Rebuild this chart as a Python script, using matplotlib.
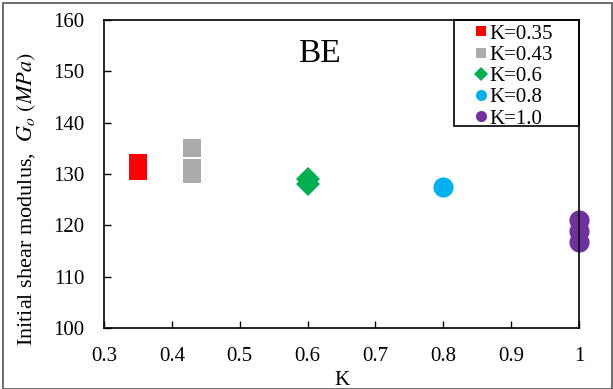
import matplotlib
matplotlib.use("Agg")
import matplotlib.pyplot as plt
from matplotlib.patches import Rectangle

plt.rcParams['font.family'] = ['Liberation Serif', 'DejaVu Serif']
plt.rcParams['mathtext.fontset'] = 'stix'

# Data
k_035 = [0.35, 0.35]
g_035 = [132.2, 130.5]
k_043 = [0.43, 0.43, 0.43]
g_043 = [135.1, 131.2, 130.0]
k_06 = [0.6, 0.6]
g_06 = [129.1, 128.0]
k_08 = [0.8]
g_08 = [127.5]
k_10 = [1.0, 1.0, 1.0]
g_10 = [121.0, 118.9, 116.8]

xticks = [0.3, 0.4, 0.5, 0.6, 0.7, 0.8, 0.9, 1.0]
xticklabels = ['0.3', '0.4', '0.5', '0.6', '0.7', '0.8', '0.9', '1']
yticks = [100, 110, 120, 130, 140, 150, 160]

fig = plt.figure(figsize=(6.13, 3.89), dpi=100)
ax = fig.add_axes([104/613, 1-328/389, 475/613, 308/389])

ax.plot(k_035, g_035, 's', color='#ff0000', ms=13.5, mew=0, label='K=0.35', clip_on=False)
ax.plot(k_043, g_043, 's', color='#aeaaaa', ms=13.0, mew=0, label='K=0.43', clip_on=False)
ax.plot(k_06, g_06, 'D', color='#00b050', ms=12.5, mew=0, label='K=0.6', clip_on=False)
ax.plot(k_08, g_08, 'o', color='#00b0f0', ms=14.5, mew=0, label='K=0.8', clip_on=False)
ax.plot(k_10, g_10, 'o', color='#7030a0', ms=14.5, mew=0, label='K=1.0', clip_on=False)

ax.set_xlim(0.3, 1.0)
ax.set_ylim(100, 160)
ax.set_xticks(xticks)
ax.set_xticklabels(xticklabels)
ax.set_yticks(yticks)
ax.tick_params(direction='in', length=5, width=1, labelsize=15, pad=14, colors='black')
for s in ax.spines.values():
    s.set_linewidth(1.2)
    s.set_color('black')

ax.set_xlabel('K', fontsize=15, labelpad=3)
ax.set_ylabel('Initial shear modulus,  $\\mathit{G_o}$ $\\mathit{(MPa)}$', fontsize=16)
ax.yaxis.set_label_coords(-0.14, 0.42)

ax.text(0.408, 0.89, 'BE', transform=ax.transAxes, fontsize=24, ha='left', va='center')

leg = ax.legend(loc='upper left', bbox_to_anchor=(0.78, 0.987), fontsize=15, frameon=False,
                borderaxespad=0, handlelength=0.6, handletextpad=0.12,
                labelspacing=0.08, borderpad=0, markerscale=0.55)
ax.add_patch(Rectangle((0.737, 0.656), 0.263, 0.344, transform=ax.transAxes, fill=False,
                       edgecolor='black', linewidth=1.2, clip_on=False, zorder=5))

fig.patches.append(Rectangle((3/613, 0.0), 609/613, 1-3/389, transform=fig.transFigure,
                             fill=False, edgecolor='#555555', linewidth=1.2))

fig.savefig('out.png', dpi=100)
